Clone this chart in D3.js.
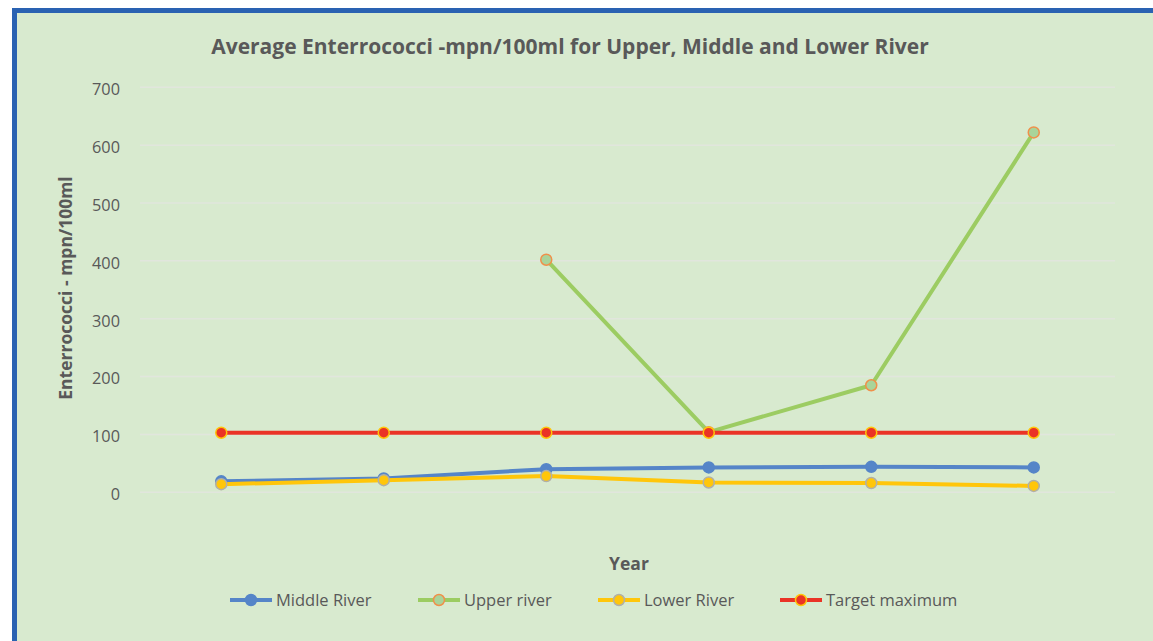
<!DOCTYPE html>
<html>
<head>
<meta charset="utf-8">
<script src="https://cdn.jsdelivr.net/npm/d3@7"></script>
<style>
  body { margin: 0; background: #fff; }
  text { font-family: "Open Sans", "Noto Sans", sans-serif; }
</style>
</head>
<body>
<svg id="chart" width="1153" height="641"></svg>
<script>
// Data
const years = ["1", "2", "3", "4", "5", "6"];
const middleRiver = [19, 24, 40, 43, 44, 43];
const upperRiver = [null, null, 402, 104, 185, 622];
const lowerRiver = [14, 21, 28, 17, 16, 11];
const targetMax = [103, 103, 103, 103, 103, 103];
const yTicks = [0, 100, 200, 300, 400, 500, 600, 700];

const series = [
  {name: "Middle River", values: middleRiver, line: "#5585c8", fill: "#5585c8", stroke: "#5585c8"},
  {name: "Upper river", values: upperRiver, line: "#9ccc62", fill: "#a9d49a", stroke: "#f0904a"},
  {name: "Lower River", values: lowerRiver, line: "#ffc60a", fill: "#ffc60a", stroke: "#b0b0a8"},
  {name: "Target maximum", values: targetMax, line: "#ea3326", fill: "#ea3326", stroke: "#ffc60a"}
];

const svg = d3.select("#chart");

// frame
svg.append("rect").attr("x", 12).attr("y", 8).attr("width", 1141).attr("height", 633).attr("fill", "#2a62b2");
svg.append("rect").attr("x", 17).attr("y", 13).attr("width", 1136).attr("height", 628).attr("fill", "#d8eacf");

const x = d3.scalePoint().domain(years).range([140, 1115]).padding(0.5);
const y = d3.scaleLinear().domain([0, 700]).range([492.3, 87.3]);

// grid
svg.append("g").selectAll("line").data(yTicks).join("line")
  .attr("x1", 140).attr("x2", 1115)
  .attr("y1", d => y(d)).attr("y2", d => y(d))
  .attr("stroke", "#e1e6dd").attr("stroke-width", 1.5);

// y axis labels
const yAxis = svg.append("g").attr("transform", "translate(128,0)")
  .call(d3.axisLeft(y).tickValues(yTicks).tickSize(0).tickPadding(8));
yAxis.select(".domain").remove();
yAxis.selectAll("text").attr("fill", "#595959").attr("font-size", 16.3)
  .attr("font-family", "'Open Sans', sans-serif").attr("dy", "0.45em");

// title
svg.append("text").attr("x", 570).attr("y", 54).attr("text-anchor", "middle")
  .attr("font-size", 21).attr("font-weight", "bold").attr("fill", "#595959")
  .text("Average Enterrococci -mpn/100ml for Upper, Middle and Lower River");

// axis titles
svg.append("text").attr("transform", "translate(72,288) rotate(-90)").attr("text-anchor", "middle")
  .attr("font-size", 17.5).attr("font-weight", "bold").attr("fill", "#595959")
  .text("Enterrococci - mpn/100ml");
svg.append("text").attr("x", 629).attr("y", 570).attr("text-anchor", "middle")
  .attr("font-size", 17.5).attr("font-weight", "bold").attr("fill", "#595959")
  .text("Year");

// lines
const line = d3.line().defined(d => d != null)
  .x((d, i) => x(years[i])).y(d => y(d));

series.forEach(s => {
  svg.append("path").datum(s.values)
    .attr("fill", "none").attr("stroke", s.line).attr("stroke-width", 4)
    .attr("stroke-linejoin", "round").attr("d", line);
  svg.append("g").selectAll("circle")
    .data(s.values.map((v, i) => ({v, i})).filter(d => d.v != null))
    .join("circle")
    .attr("cx", d => x(years[d.i])).attr("cy", d => y(d.v)).attr("r", 5.5)
    .attr("fill", s.fill).attr("stroke", s.stroke).attr("stroke-width", 1.5);
});

// legend
const legendX = [230, 418, 598, 780];
const lg = svg.append("g").selectAll("g").data(series).join("g")
  .attr("transform", (d, i) => `translate(${legendX[i]},600)`);
lg.append("line").attr("x1", 0).attr("x2", 42).attr("stroke", d => d.line).attr("stroke-width", 4);
lg.append("circle").attr("cx", 21).attr("r", 5.5)
  .attr("fill", d => d.fill).attr("stroke", d => d.stroke).attr("stroke-width", 1.5);
lg.append("text").attr("x", 46).attr("dy", "0.35em").attr("font-size", 16.5).attr("fill", "#595959")
  .text(d => d.name);
</script>
</body>
</html>
